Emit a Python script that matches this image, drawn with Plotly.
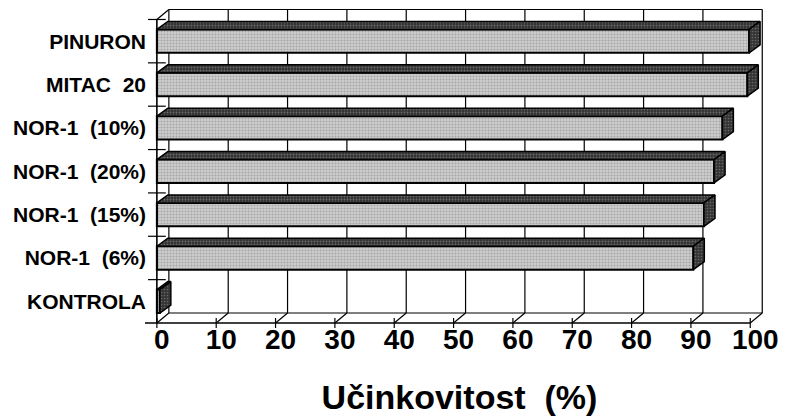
import plotly.graph_objects as go

# ---- data ----
categories = ["PINURON", "MITAC  20", "NOR-1  (10%)", "NOR-1  (20%)",
              "NOR-1  (15%)", "NOR-1  (6%)", "KONTROLA"]
values = [99.8, 99.5, 95.3, 93.9, 92.2, 90.4, 0.5]
x_ticks = [0, 10, 20, 30, 40, 50, 60, 70, 80, 90, 100]
x_tick_labels = [str(t) for t in x_ticks]
axis_title = "Učinkovitost\u00a0\u00a0(%)"

# ---- styling / geometry constants ----
FONT = "Liberation Sans, Arial, Helvetica, sans-serif"
W, H = 788, 416
ML, MR, MT, MB = 145, 14, 6, 86
X_RANGE = [-2, 104]
PX_X = (W - ML - MR) / (X_RANGE[1] - X_RANGE[0])
PX_Y = 43.36
Y_LOW = -0.5 - 7 / PX_Y
Y_HIGH = Y_LOW + (H - MT - MB) / PX_Y
DXF, DYF = 12 / PX_X, 10 / PX_Y      # depth of the frame
DXB, DYB = 11 / PX_X, 8 / PX_Y       # depth of the bars
BAR_W = 0.54

n = len(categories)
ypos = [n - 1 - i for i in range(n)]
labels = [c.replace(" ", "\u00a0") for c in categories]
y_lo_cat = min(ypos) - 0.5
y_hi_cat = max(ypos) + 0.5
x_max = x_ticks[-1]

fig = go.Figure()

# front faces
fig.add_trace(go.Bar(
    x=values, y=ypos, orientation="h", width=BAR_W,
    marker=dict(color="#d0d0d0", line=dict(color="black", width=2),
                pattern=dict(shape=".", fgcolor="#7a7a7a", bgcolor="#d0d0d0",
                             size=3, solidity=0.4)),
    hoverinfo="skip", showlegend=False))

# top and side faces of the bars
for v, y in zip(values, ypos):
    yt, yb = y + BAR_W / 2, y - BAR_W / 2
    fig.add_trace(go.Scatter(
        x=[0, v, v + DXB, DXB, 0], y=[yt, yt, yt + DYB, yt + DYB, yt],
        mode="lines", fill="toself", fillcolor="#4a4a4a",
        fillpattern=dict(shape=".", fgcolor="#a0a0a0", bgcolor="#333333",
                         size=3, solidity=0.3),
        line=dict(color="black", width=1.5), hoverinfo="skip", showlegend=False))
    fig.add_trace(go.Scatter(
        x=[v, v + DXB, v + DXB, v, v], y=[yb, yb + DYB, yt + DYB, yt, yb],
        mode="lines", fill="toself", fillcolor="#555555",
        fillpattern=dict(shape=".", fgcolor="#9a9a9a", bgcolor="#333333",
                         size=3, solidity=0.25),
        line=dict(color="black", width=1.5), hoverinfo="skip", showlegend=False))

shapes = []
LC = "black"
def seg(x0, y0, x1, y1, w=1.2, layer="below"):
    shapes.append(dict(type="line", xref="x", yref="y", x0=x0, y0=y0, x1=x1, y1=y1,
                       line=dict(color=LC, width=w), layer=layer))

# back wall: vertical grid lines and top edge
for t in x_ticks:
    seg(t + DXF, y_lo_cat + DYF, t + DXF, y_hi_cat + DYF, 1.2)
seg(DXF, y_hi_cat + DYF, x_max + DXF, y_hi_cat + DYF, 1.2)
# left wall top diagonal
seg(0, y_hi_cat, DXF, y_hi_cat + DYF, 1.2)
# floor
seg(DXF, y_lo_cat + DYF, x_max + DXF, y_lo_cat + DYF, 1.2)
for t in x_ticks:
    seg(t, y_lo_cat, t + DXF, y_lo_cat + DYF, 1.2)
# front axes
seg(X_RANGE[0], y_lo_cat, x_max, y_lo_cat, 1.6, "above")
seg(0, y_lo_cat, 0, y_hi_cat, 1.6, "above")
# tick marks
for t in x_ticks:
    seg(t, y_lo_cat - 5 / PX_Y, t, y_lo_cat + 5 / PX_Y, 1.2, "above")
for y in ypos:
    seg(-1.5, y + 0.5, 1.5, y + 0.5, 1.2, "above")

fig.update_layout(
    width=W, height=H,
    margin=dict(l=ML, r=MR, t=MT, b=MB, autoexpand=False),
    paper_bgcolor="white", plot_bgcolor="white",
    font=dict(family=FONT, color="black"),
    shapes=shapes, hovermode=False, showlegend=False,
    xaxis=dict(range=X_RANGE, tickvals=x_ticks, ticktext=x_tick_labels,
               ticks="", showline=False, showgrid=False, zeroline=False,
               automargin=False, ticklabelshift=5, ticklabelstandoff=-10,
               tickfont=dict(family=FONT, size=28, color="black", weight="bold"),
               title=dict(text=axis_title, standoff=31,
                          font=dict(family=FONT, size=34, color="black", weight="bold"))),
    yaxis=dict(range=[Y_LOW, Y_HIGH], tickvals=ypos, ticktext=labels,
               ticks="", showline=False, showgrid=False, zeroline=False,
               automargin=False, ticklabelstandoff=-2,
               tickfont=dict(family=FONT, size=21, color="black", weight="bold")),
)

fig.write_html("out.html", config={"displayModeBar": False},
               post_script="document.body.style.margin='0';")
